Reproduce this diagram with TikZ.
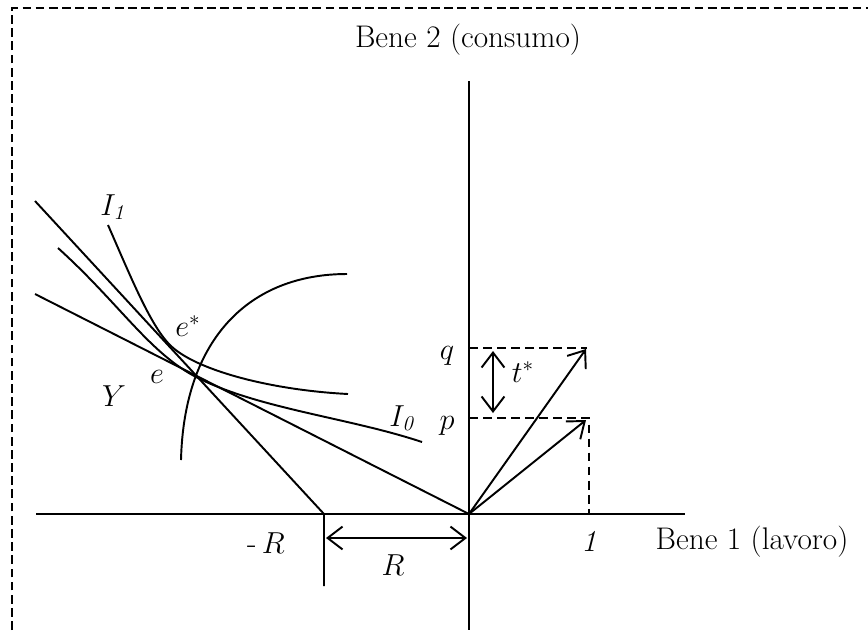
\documentclass[tikz,border=0pt]{standalone}
\usepackage{tikz}
\usetikzlibrary{arrows.meta, positioning}

\begin{document}
\begin{tikzpicture}[x=0.02cm, y=-0.02cm,
  thick line/.style={line width=1.1pt},
  guide/.style={line width=1pt, dash pattern=on 5pt off 3pt},
  frameline/.style={line width=0.9pt, dash pattern=on 5pt off 2.5pt},
  vec/.style={thick line, -{Straight Barb[length=8.5pt, width=13pt]}},
  span/.style={thick line, {Straight Barb[length=8.5pt, width=13pt]}-{Straight Barb[length=8.5pt, width=13pt]}},
  lbl/.style={inner sep=0pt, font=\fontsize{17.8}{21}\selectfont}
]
  \useasboundingbox (0,0) rectangle (868,630);

  \coordinate (fa) at (12,630);
  \coordinate (fb) at (12,8);
  \coordinate (fc) at (868,8);
  \draw[frameline] (fa) -- (fb) -- (fc);

  \coordinate (O) at (469,514);
  \coordinate (xl) at (36,514);
  \coordinate (xr) at (685,514);
  \coordinate (yt) at (469,81);
  \coordinate (yb) at (469,630);
  \draw[thick line] (xl) -- (xr);
  \draw[thick line] (yt) -- (yb);

  \coordinate (mR) at (324,514);
  \coordinate (mRb) at (324,586);
  \coordinate (s1) at (35,201);
  \coordinate (s2) at (35,294);
  \draw[thick line] (s1) -- (mR) -- (mRb);
  \draw[thick line] (s2) -- (O);

  \coordinate (e) at (198,378);
  \coordinate (i0a) at (58,248);
  \coordinate (i0b) at (422,442);
  \draw[thick line] (i0a) .. controls (120,304) and (150,354) .. (e)
    .. controls (260,409) and (350,418) .. (i0b);

  \coordinate (i1a) at (108,225);
  \coordinate (i1m) at (170,345);
  \coordinate (i1b) at (348,394);
  \draw[thick line] (i1a) .. controls (130,275) and (150,325) .. (i1m)
    .. controls (195,370) and (270,390) .. (i1b);

  \coordinate (ya) at (181,460);
  \coordinate (yz) at (347,274);
  \draw[thick line] (ya) .. controls (184,338) and (250,274) .. (yz);

  \coordinate (qa) at (469,348);
  \coordinate (qc) at (587,348);
  \coordinate (pa) at (469,418);
  \coordinate (pc) at (589,418);
  \coordinate (one) at (589,514);
  \draw[guide] (qa) -- (qc);
  \draw[guide] (pa) -- (pc) -- (one);

  \coordinate (qv) at (586,349);
  \coordinate (pv) at (586,420);
  \draw[vec] (O) -- (qv);
  \draw[vec] (O) -- (pv);

  \coordinate (ta) at (493,351);
  \coordinate (tb) at (493,413);
  \draw[span] (ta) -- (tb);

  \coordinate (ra) at (326,538);
  \coordinate (rb) at (467,538);
  \draw[span] (ra) -- (rb);

  \node[lbl] (bene2) at (468,40) {Bene 2 (consumo)};
  \node[lbl] (bene1) at (752,542) {Bene 1 (lavoro)};
  \node[lbl] (lI1) at (114,207) {$I_{\mathit{1}}$};
  \node[lbl] (lI0) at (403,418) {$I_{\mathit{0}}$};
  \node[lbl] (lestar) at (188,326) {$e^*$};
  \node[lbl] (le) at (157,377) {$e$};
  \node[lbl] (lY) at (114,396) {$Y$};
  \node[lbl] (lq) at (447,356) {$q$};
  \node[lbl] (lp) at (447,426) {$p$};
  \node[lbl] (lt) at (523,372) {$t^*$};
  \node[lbl] (lmR) at (266,543) {-\,$R$};
  \node[lbl] (lR) at (393,565) {$R$};
  \node[lbl] (lone) at (591,542) {$\mathit{1}$};
\end{tikzpicture}
\end{document}
